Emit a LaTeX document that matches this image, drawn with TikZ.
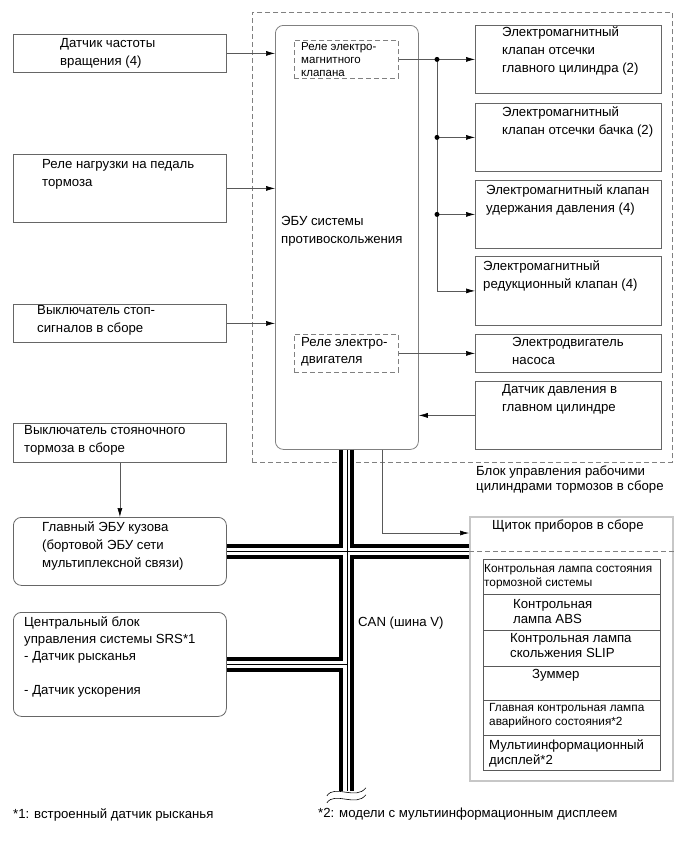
\documentclass[tikz,border=0pt]{standalone}
\usepackage{fontspec}
\setmainfont{Liberation Sans}
\usetikzlibrary{arrows.meta,calc}

\definecolor{boxgray}{gray}{0.4}
\definecolor{dashgray}{gray}{0.5}
\definecolor{panelgray}{gray}{0.78}
\definecolor{tabgray}{gray}{0.35}
\newcommand\fmain{\fontsize{13.2}{18}\selectfont}
\newcommand\ftab{\fontsize{13.2}{15.5}\selectfont}
\newcommand\fsmall{\fontsize{11.8}{14.5}\selectfont}
\newcommand\frelay{\fontsize{11.5}{13}\selectfont}

\begin{document}
\begin{tikzpicture}[x=1pt,y=-1pt,
  box/.style={draw=boxgray, line width=0.8pt, anchor=north west, inner sep=0pt},
  rbox/.style={box, rounded corners=8pt},
  dbox/.style={box, draw=dashgray, dash pattern=on 5pt off 3pt},
  txt/.style={anchor=north west, inner sep=0pt, align=left, font=\fmain},
  arr/.style={-{Latex[length=9pt,width=5pt,black]}, line width=0.6pt, black!65},
  dot/.style={circle, fill=black, inner sep=0pt, minimum size=5pt}]
  \useasboundingbox (0,0) rectangle (690,854);

  % frame and ECU
  \node[dbox, minimum width=420, minimum height=450] (frame) at (252,12) {};
  \node[rbox, draw=dashgray, minimum width=143, minimum height=424] (ecu) at (275,25) {};
  \node[dbox, minimum width=104, minimum height=38] (vrelay) at (294,40) {};
  \node[dbox, minimum width=104, minimum height=38] (mrelay) at (294,334) {};

  % inputs on the left
  \foreach \name/\y/\h in {speed/34/38, pedal/154/68, stop/304/38, park/423/39}
    \node[box, minimum width=213, minimum height=\h] (\name) at (13,\y) {};
  \node[rbox, minimum width=213, minimum height=68] (body) at (13,517) {};
  \node[rbox, minimum width=213, minimum height=104] (srs) at (13,612) {};

  % actuators on the right
  \foreach \name/\y/\h in {v1/25/68, v2/103/68, v3/180/68, v4/256/69, pump/334/38, psens/381/68}
    \node[box, minimum width=186, minimum height=\h] (\name) at (475,\y) {};

  % combination meter
  \node[box, draw=panelgray, line width=1.5pt, minimum width=203, minimum height=264] (panel) at (469,516) {};
  \draw[dashgray, line width=0.6pt, dash pattern=on 5pt off 3pt]
    ($(panel.north west)+(0,35)$) -- ($(panel.north east)+(0,35)$);
  \foreach \name/\y/\h in {r1/559/35, r2/594/36, r3/630/36, r4/666/34, r5/700/35, r6/735/35}
    \node[box, draw=tabgray, line width=0.6pt, minimum width=177, minimum height=\h] (\name) at (483,\y) {};

  % CAN bus
  \coordinate (busend) at ($(ecu.south)+(0,341)$);
  \foreach \w/\col in {15pt/black, 7pt/white, 0.7pt/black}
    \draw[line width=\w, \col] (ecu.south) -- (busend)
      (body.east) -- (body.east -| panel.west)
      (srs.east) -- (srs.east -| ecu.south);
  \coordinate (brk1) at ($(busend)+(-20,5)$);
  \coordinate (brk2) at ($(busend)+(19,-3)$);
  \coordinate (brk3) at ($(busend)+(-20,12)$);
  \coordinate (brk4) at ($(busend)+(19,4)$);
  \draw[line width=0.6pt] (brk1) .. controls +(8,-12) and +(-10,13) .. (brk2);
  \draw[line width=0.6pt] (brk3) .. controls +(8,-12) and +(-10,13) .. (brk4);

  % connectors
  \foreach \name in {speed, pedal, stop}
    \draw[arr] (\name.east) -- (\name.east -| ecu.west);
  \draw[arr] (park.south) -- (body.north);
  \coordinate (trunk) at (437,0);
  \draw[arr] (vrelay.east) -- (vrelay.east -| v1.west);
  \draw[arr] (trunk |- vrelay.east) |- (v4.west);
  \foreach \v in {v2, v3}
    \draw[arr] (trunk |- \v.west) -- (\v.west);
  \foreach \v/\d in {v1/d1, v2/d2, v3/d3}
    \node[dot] (\d) at (trunk |- \v.west) {};
  \draw[arr] (mrelay.east) -- (mrelay.east -| pump.west);
  \draw[arr] (psens.west) -- (psens.west -| ecu.east);
  \coordinate (ecuout) at ($(ecu.south)+(35,0)$);
  \draw[arr] (ecuout) |- ($(panel.north west)+(0,17)$);

  % texts
  \foreach \name/\x/\y/\t in {
    tspeed/60/38/{Датчик частоты\\вращения (4)},
    tpedal/42/159/{Реле нагрузки на педаль\\тормоза},
    tstop/37/305/{Выключатель стоп-\\сигналов в сборе},
    tpark/24/425/{Выключатель стояночного\\тормоза в сборе},
    tbody/42/521/{Главный ЭБУ кузова\\(бортовой ЭБУ сети\\мультиплексной связи)},
    tecu/281/216/{ЭБУ системы\\противоскольжения},
    tv1/502/27/{Электромагнитный\\клапан отсечки\\главного цилиндра (2)},
    tv2/502/107/{Электромагнитный\\клапан отсечки бачка (2)},
    tv3/486/184/{Электромагнитный клапан\\удержания давления (4)},
    tv4/483/260/{Электромагнитный\\редукционный клапан (4)},
    tpump/512/337/{Электродвигатель\\насоса},
    tpsens/502/384/{Датчик давления в\\главном цилиндре},
    tpanel/492/520/{Щиток приборов в сборе},
    tcan/358/617/{CAN (шина V)},
    tfn1/13/808/{*1: встроенный датчик рысканья},
    tfn2/318/808/{*2: модели с мультиинформационным дисплеем}}
    \node[txt] (\name) at (\x,\y) {\t};
  \node[txt, font=\fontsize{13.2}{17}\selectfont] (tsrs) at (24,616)
    {Центральный блок\\управления системы SRS*1\\- Датчик рысканья\\[17pt]- Датчик ускорения};
  \node[txt, font=\fontsize{13.2}{17}\selectfont] (tmrelay) at (301,337) {Реле электро-\\двигателя};
  \node[txt, font=\frelay] (tvrelay) at (301,42) {Реле электро-\\магнитного\\клапана};
  \node[txt, font=\fontsize{13.2}{15}\selectfont] (tframe) at (476,466)
    {Блок управления рабочими\\цилиндрами тормозов в сборе};
  \foreach \name/\x/\y/\t in {
    tr2/513/599/{Контрольная\\лампа ABS},
    tr3/510/633/{Контрольная лампа\\скольжения SLIP},
    tr4/532/669/{Зуммер},
    tr6/489/739/{Мультиинформационный\\дисплей*2}}
    \node[txt, font=\ftab] (\name) at (\x,\y) {\t};
  \node[txt, font=\fsmall] (tr1) at (484,564) {Контрольная лампа состояния\\тормозной системы};
  \node[txt, font=\fsmall] (tr5) at (489,703) {Главная контрольная лампа\\аварийного состояния*2};
\end{tikzpicture}
\end{document}
